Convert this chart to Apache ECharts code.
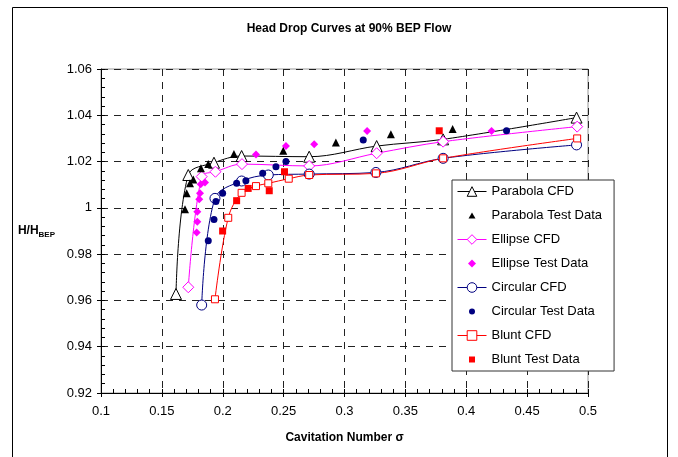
<!DOCTYPE html>
<html>
<head>
<meta charset="utf-8">
<script src="https://cdn.jsdelivr.net/npm/echarts@6/dist/echarts.min.js"></script>
<style>
  html, body { margin: 0; padding: 0; background: #fff; }
  #chart { width: 678px; height: 457px; }
</style>
</head>
<body>
<div id="chart"></div>
<script>
// values
const parabolaCfdX = [0.1616, 0.1717, 0.1928, 0.2155, 0.2710, 0.3264, 0.3810, 0.4906];
const parabolaCfdY = [0.9628, 1.0142, 1.0195, 1.0224, 1.0221, 1.0267, 1.0296, 1.0390];

const parabolaTestX = [0.1690, 0.1704, 0.1731, 0.1758, 0.1821, 0.1881, 0.2092, 0.2497, 0.2929, 0.3381, 0.3888];
const parabolaTestY = [0.9994, 1.0063, 1.0106, 1.0123, 1.0171, 1.0189, 1.0233, 1.0247, 1.0282, 1.0318, 1.0341];

const ellipseCfdX = [0.1717, 0.1827, 0.1940, 0.2158, 0.2710, 0.3264, 0.3810, 0.4911];
const ellipseCfdY = [0.9657, 1.0135, 1.0156, 1.0189, 1.0181, 1.0236, 1.0286, 1.0351];

const ellipseTestX = [0.1786, 0.1791, 0.1791, 0.1807, 0.1813, 0.1819, 0.1854, 0.2273, 0.2519, 0.2751, 0.3186, 0.4208];
const ellipseTestY = [0.9893, 0.9940, 0.9983, 1.0037, 1.0063, 1.0102, 1.0110, 1.0231, 1.0267, 1.0275, 1.0332, 1.0332];

const circularCfdX = [0.1827, 0.1936, 0.2155, 0.2374, 0.2710, 0.3258, 0.3810, 0.4906];
const circularCfdY = [0.9580, 1.0041, 1.0116, 1.0142, 1.0146, 1.0153, 1.0214, 1.0272];

const circularTestX = [0.1881, 0.1928, 0.1944, 0.1999, 0.2114, 0.2190, 0.2328, 0.2437, 0.2519, 0.3154, 0.4331];
const circularTestY = [0.9858, 0.9950, 1.0027, 1.0063, 1.0106, 1.0117, 1.0149, 1.0178, 1.0200, 1.0293, 1.0333];

const bluntCfdX = [0.1936, 0.2045, 0.2155, 0.2273, 0.2374, 0.2542, 0.2710, 0.3258, 0.3810, 0.4911];
const bluntCfdY = [0.9605, 0.9957, 1.0065, 1.0094, 1.0106, 1.0126, 1.0142, 1.0149, 1.0214, 1.0300];

const bluntTestX = [0.1999, 0.2114, 0.2209, 0.2382, 0.2507, 0.3778];
const bluntTestY = [0.9900, 1.0031, 1.0084, 1.0074, 1.0156, 1.0333];

const FONT = 'Liberation Sans, Arial, sans-serif';

function pairs(xs, ys) {
    return xs.map((x, i) => [x, ys[i]]);
}

// legend icons for the test data: small symbol padded into the 29x12 legend cell
const ICON_TRI = 'path://M0,0M29,12M14.5,3L18,9L11,9Z';
const ICON_DIA = 'path://M0,0M29,12M14.5,2L18.5,6L14.5,10L10.5,6Z';
const ICON_CIR = 'path://M0,0M29,12M11.5,6A3,3,0,1,1,17.5,6A3,3,0,1,1,11.5,6Z';
const ICON_SQR = 'path://M0,0M29,12M11.5,3L17.5,3L17.5,9L11.5,9Z';

// CFD curves: smoothed line with hollow (white filled, 1px outlined) markers
function cfdLine(name, color, symbol, size, xs, ys) {
    return {
        name: name,
        type: 'line',
        smooth: 0.35,
        symbol: symbol,
        symbolSize: size,
        showAllSymbol: true,
        z: 3,
        lineStyle: { color: color, width: 1 },
        itemStyle: { color: '#fff', borderColor: color, borderWidth: 1 },
        data: pairs(xs, ys)
    };
}

function testPoints(name, color, symbol, size, xs, ys) {
    return {
        name: name,
        type: 'scatter',
        symbol: symbol,
        symbolSize: size,
        z: 4,
        itemStyle: { color: color, opacity: 1 },
        data: pairs(xs, ys)
    };
}

let chart = echarts.init(document.getElementById('chart'));

let option = {
    backgroundColor: '#fff',
    animation: false,
    title: {
        text: 'Head Drop Curves at 90% BEP Flow',
        left: 344,
        top: 18,
        textAlign: 'center',
        textStyle: { fontFamily: FONT, fontSize: 12, fontWeight: 'bold', color: '#000' }
    },
    graphic: [{
        type: 'rect',
        shape: { x: 12.5, y: 7.5, width: 655, height: 480 },
        style: { fill: 'none', stroke: '#000', lineWidth: 1 },
        silent: true
    }],
    legend: {
        orient: 'vertical',
        left: 452,
        top: 180,
        itemWidth: 29,
        itemHeight: 12,
        itemGap: 11,
        padding: [5, 12, 5, 5],
        backgroundColor: '#fff',
        borderColor: '#333',
        borderWidth: 1,
        borderRadius: 0,
        lineStyle: { width: 1 },
        itemStyle: { borderWidth: 1 },
        textStyle: { fontFamily: FONT, fontSize: 13, color: '#000' },
        data: [
            { name: 'Parabola CFD' },
            { name: 'Parabola Test Data', icon: ICON_TRI, itemStyle: { borderWidth: 0 } },
            { name: 'Ellipse CFD' },
            { name: 'Ellipse Test Data', icon: ICON_DIA, itemStyle: { borderWidth: 0 } },
            { name: 'Circular CFD' },
            { name: 'Circular Test Data', icon: ICON_CIR, itemStyle: { borderWidth: 0 } },
            { name: 'Blunt CFD' },
            { name: 'Blunt Test Data', icon: ICON_SQR, itemStyle: { borderWidth: 0 } }
        ]
    },
    grid: {
        left: 101,
        right: 90,
        top: 69,
        bottom: 64,
        show: true,
        borderColor: '#999',
        borderWidth: 1,
        backgroundColor: '#fff'
    },
    xAxis: [{
        type: 'value',
        min: 0.1,
        max: 0.5,
        interval: 0.05,
        name: 'Cavitation Number σ',
        nameLocation: 'middle',
        nameGap: 39,
        nameTextStyle: { fontFamily: FONT, fontSize: 12, fontWeight: 'bold', color: '#000' },
        axisLine: { show: true, lineStyle: { color: '#000', width: 1 } },
        axisTick: { show: true, inside: true, length: 4, lineStyle: { color: '#000' } },
        minorTick: { show: true, splitNumber: 5, length: 4, lineStyle: { color: '#000' } },
        axisLabel: { fontFamily: FONT, fontSize: 13, color: '#000', margin: 12 },
        splitLine: { show: true, lineStyle: { color: '#222', type: [7, 6], width: 1 } }
    }, {
        type: 'value',
        min: 0.1,
        max: 0.5,
        interval: 0.05,
        position: 'bottom',
        axisLine: { show: false },
        axisTick: { show: true, inside: false, length: 4, lineStyle: { color: '#000' } },
        axisLabel: { show: false },
        splitLine: { show: false }
    }],
    yAxis: [{
        type: 'value',
        min: 0.92,
        max: 1.06,
        interval: 0.02,
        name: '{a|H/H}{b|BEP}',
        nameLocation: 'middle',
        nameRotate: 0,
        nameGap: 46,
        nameTextStyle: {
            rich: {
                a: { fontFamily: FONT, fontSize: 12, fontWeight: 'bold', color: '#000', lineHeight: 16 },
                b: { fontFamily: FONT, fontSize: 8, fontWeight: 'bold', color: '#000', lineHeight: 8, verticalAlign: 'bottom' }
            }
        },
        axisLine: { show: true, lineStyle: { color: '#000', width: 1 } },
        axisTick: { show: true, inside: true, length: 4, lineStyle: { color: '#000' } },
        minorTick: { show: true, splitNumber: 5, length: 4, lineStyle: { color: '#000' } },
        axisLabel: { fontFamily: FONT, fontSize: 13, color: '#000', margin: 9 },
        splitLine: { show: true, lineStyle: { color: '#222', type: [7, 6], width: 1 } }
    }, {
        type: 'value',
        min: 0.92,
        max: 1.06,
        interval: 0.02,
        position: 'left',
        axisLine: { show: false },
        axisTick: { show: true, inside: false, length: 4, lineStyle: { color: '#000' } },
        axisLabel: { show: false },
        splitLine: { show: false }
    }],
    series: [
        cfdLine('Parabola CFD', '#000000', 'triangle', 11, parabolaCfdX, parabolaCfdY),
        testPoints('Parabola Test Data', '#000000', 'triangle', 8, parabolaTestX, parabolaTestY),
        cfdLine('Ellipse CFD', '#ff00ff', 'diamond', 11, ellipseCfdX, ellipseCfdY),
        testPoints('Ellipse Test Data', '#ff00ff', 'diamond', 8, ellipseTestX, ellipseTestY),
        cfdLine('Circular CFD', '#000080', 'circle', 10, circularCfdX, circularCfdY),
        testPoints('Circular Test Data', '#000080', 'circle', 7, circularTestX, circularTestY),
        cfdLine('Blunt CFD', '#ff0000', 'rect', 7, bluntCfdX, bluntCfdY),
        testPoints('Blunt Test Data', '#ff0000', 'rect', 7, bluntTestX, bluntTestY)
    ]
};

chart.setOption(option);
</script>
</body>
</html>
